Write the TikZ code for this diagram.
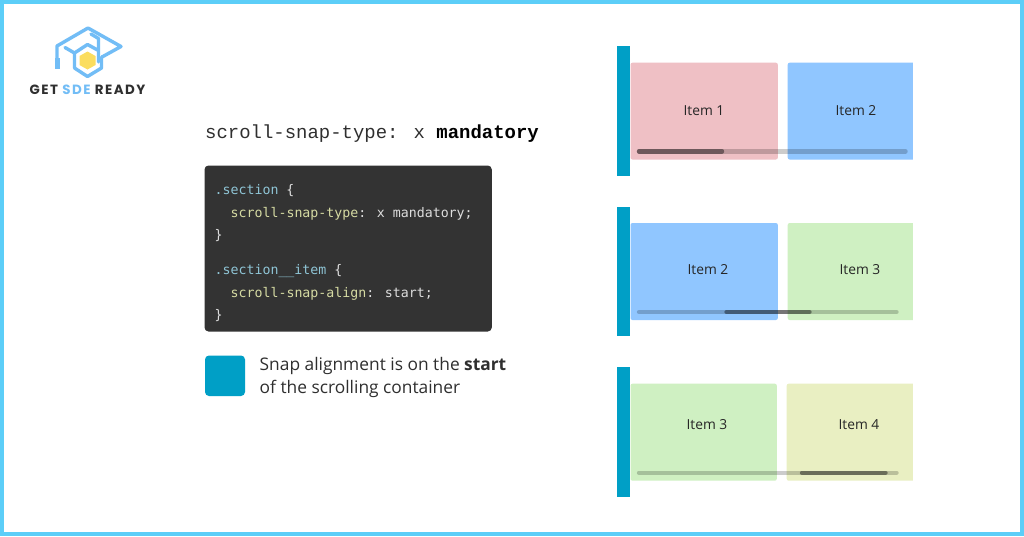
\documentclass[tikz,border=0pt]{standalone}
\usepackage{fontspec}
\setmainfont{Open Sans}
\newfontfamily\codefont{DejaVu Sans Mono}
\newfontfamily\titlefont{Liberation Mono}
\newfontfamily\logofont[LetterSpace=11]{Poppins}
\newfontfamily\uifont{Open Sans}
\definecolor{frameblue}{HTML}{5CCEF8}
\definecolor{barblue}{HTML}{009FC6}
\definecolor{itempink}{HTML}{EFC0C5}
\definecolor{itemblue}{HTML}{90C6FF}
\definecolor{itemgreen}{HTML}{CFF0C2}
\definecolor{itemolive}{HTML}{E9EFC2}
\definecolor{codebg}{HTML}{333333}
\definecolor{codeclass}{HTML}{8FC5D6}
\definecolor{codeprop}{HTML}{D6DBA3}
\definecolor{codetext}{HTML}{DDDDDD}
\definecolor{logoblue}{HTML}{72BDF6}
\definecolor{logoyellow}{HTML}{FBDD5E}
\definecolor{inkdark}{HTML}{2F2F2F}
\tikzset{
  bar/.style={fill=barblue,draw=none},
  card/.style={draw=none,rounded corners=2pt},
  track/.style={line width=4.4pt,line cap=round,black,opacity=.2},
  thumb/.style={line width=4.4pt,line cap=round,black,opacity=.42},
  itemlabel/.style={anchor=base,inner sep=0pt,text=black!85,font=\uifont\fontsize{13.8}{13.8}\selectfont},
  codeline/.style={anchor=base west,inner sep=0pt,text=codetext,font=\codefont\fontsize{13.25}{13.25}\selectfont},
  logoline/.style={line width=3.4pt,logoblue,line join=round,line cap=round},
  plain/.style={anchor=base west,inner sep=0pt}
}
\begin{document}
\begin{tikzpicture}[x=1pt,y=-1pt]
\useasboundingbox (0,0) rectangle (1024,536);
\fill[white] (0,0) rectangle (1024,536);
\draw[frameblue,line width=3.6pt] (1.8,1.8) rectangle (1022.2,534.2);

% logo
\draw[logoline] (57,67) -- (57,46) -- (88,28) -- (121,46.5) -- (102,57);
\draw[line width=4.5pt,logoblue] (57.5,58) -- (57.5,69);
\draw[logoline] (65,47.5) -- (74.5,53);
\draw[logoline] (91,34) -- (98.5,38.5) -- (98.5,62);
\draw[logoline] (74.5,68) -- (74.5,53) -- (87.5,44.5) -- (98.5,50.5);
\draw[logoline] (74.5,68) -- (87.5,76.5) -- (101.5,68) -- (101.5,57);
\fill[logoyellow] (87.5,51.5) -- (95.5,56) -- (95.5,65) -- (87.5,69.5) -- (79.5,65) -- (79.5,56) -- cycle;
\node[plain] (logotext) at (29.5,94.5) {\logofont\bfseries\fontsize{13.4}{13.4}\selectfont\textcolor{inkdark}{GET }\textcolor{logoblue}{SDE }\textcolor{inkdark}{READY}};

% title
\node[plain,text=inkdark] (title) at (205,138) {\titlefont\fontsize{18.95}{18.95}\selectfont scroll-snap-type: x \textbf{\textcolor{black}{mandatory}}};

% code
\fill[codebg,rounded corners=4pt] (204.5,165.5) rectangle (491.8,331.5);
\node[codeline] (c1) at (214.5,194.5) {\textcolor{codeclass}{.section} \{};
\node[codeline] (c2) at (230.5,217) {\textcolor{codeprop}{scroll-snap-type}: x mandatory;};
\node[codeline] (c3) at (214.5,239.5) {\}};
\node[codeline] (c4) at (214.5,274) {\textcolor{codeclass}{.section\_\_item} \{};
\node[codeline] (c5) at (230.5,297) {\textcolor{codeprop}{scroll-snap-align}: start;};
\node[codeline] (c6) at (214.5,319.5) {\}};

% legend
\fill[barblue,rounded corners=4pt] (205,355.5) rectangle (245,396);
\node[plain,text=inkdark] (leg1) at (259.5,370.5) {\uifont\fontsize{17.35}{17.35}\selectfont Snap alignment is on the \textbf{start}};
\node[plain,text=inkdark] (leg2) at (259.5,393.5) {\uifont\fontsize{17.35}{17.35}\selectfont of the scrolling container};

% row 1
\fill[card,itempink] (630.5,62.7) rectangle (777.8,159.5);
\begin{scope}
\clip (780,50) rectangle (912.8,170);
\fill[card,itemblue] (787.7,62.7) rectangle (925,159.5);
\end{scope}
\path[bar] (617,46) rectangle (630,176);
\node[itemlabel] (a1) at (704,115.5) {Item 1};
\node[itemlabel] (a2) at (856,115.5) {Item 2};
\draw[track] (639,151.3) -- (905.5,151.3);
\draw[thumb] (639,151.3) -- (722,151.3);

% row 2
\fill[card,itemblue] (630.5,223) rectangle (777.8,320);
\begin{scope}
\clip (780,210) rectangle (912.8,330);
\fill[card,itemgreen] (787.7,223) rectangle (925,320);
\end{scope}
\path[bar] (617,206.7) rectangle (630,336.3);
\node[itemlabel] (b1) at (708,274.5) {Item 2};
\node[itemlabel] (b2) at (860,274.5) {Item 3};
\draw[track] (639,312) -- (896.5,312);
\draw[thumb] (726.5,312) -- (809.5,312);

% row 3
\fill[card,itemgreen] (630.5,383.7) rectangle (776.8,480.7);
\begin{scope}
\clip (780,370) rectangle (912.8,490);
\fill[card,itemolive] (786.7,383.7) rectangle (925,480.7);
\end{scope}
\path[bar] (617,367.3) rectangle (630,496.7);
\node[itemlabel] (d1) at (707,429.5) {Item 3};
\node[itemlabel] (d2) at (859,429.5) {Item 4};
\draw[track] (639,472.7) -- (896.5,472.7);
\draw[thumb] (802,472.7) -- (885.5,472.7);
\end{tikzpicture}
\end{document}
